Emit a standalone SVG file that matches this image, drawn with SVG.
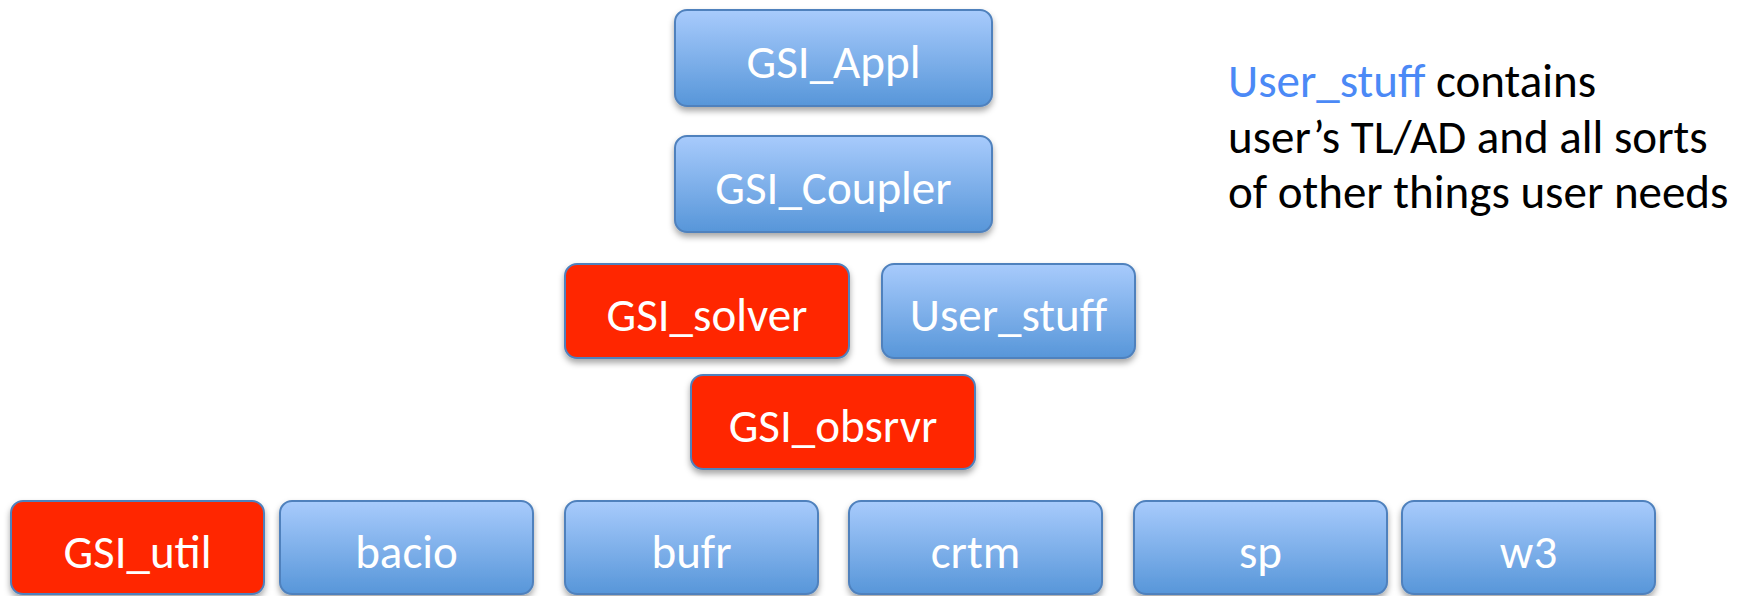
<svg xmlns="http://www.w3.org/2000/svg" width="1751" height="596" viewBox="0 0 1751 596">
<defs>
<linearGradient id="blueGrad" x1="0" y1="0" x2="0" y2="1">
<stop offset="0" stop-color="#a8cbfc"/>
<stop offset="1" stop-color="#5796d9"/>
</linearGradient>
<filter id="shadow" x="-10%" y="-10%" width="120%" height="130%">
<feDropShadow dx="0" dy="4" stdDeviation="3" flood-color="#000" flood-opacity="0.35"/>
</filter>
</defs>
<style>
.box{stroke:#4f81bd;stroke-width:2;filter:url(#shadow)}
.blue{fill:url(#blueGrad)}
.red{fill:#ff2600}
.lbl{font-family:Carlito,Calibri,"Liberation Sans",sans-serif;font-size:47px;fill:#ffffff;text-anchor:middle}
.note{font-family:Carlito,Calibri,"Liberation Sans",sans-serif;font-size:47px;fill:#000000}
.hl{fill:#4b89f6}
</style>
<g id="connectors"></g>
<g id="GSI_Appl"><rect class="box blue" x="675" y="10" width="317" height="96" rx="12"/><text class="lbl" x="833.5" y="78">GSI_Appl</text></g>
<g id="GSI_Coupler"><rect class="box blue" x="675" y="136" width="317" height="96" rx="12"/><text class="lbl" x="833.5" y="204">GSI_Coupler</text></g>
<g id="GSI_solver"><rect class="box red" x="565" y="264" width="284" height="94" rx="12"/><text class="lbl" x="707" y="331">GSI_solver</text></g>
<g id="User_stuff"><rect class="box blue" x="882" y="264" width="253" height="94" rx="12"/><text class="lbl" x="1008.5" y="331">User_stuff</text></g>
<g id="GSI_obsrvr"><rect class="box red" x="691" y="375" width="284" height="94" rx="12"/><text class="lbl" x="833" y="442">GSI_obsrvr</text></g>
<g id="GSI_util"><rect class="box red" x="11" y="501" width="253" height="93" rx="12"/><text class="lbl" x="137.5" y="568">GSI_util</text></g>
<g id="bacio"><rect class="box blue" x="280" y="501" width="253" height="93" rx="12"/><text class="lbl" x="406.5" y="568">bacio</text></g>
<g id="bufr"><rect class="box blue" x="565" y="501" width="253" height="93" rx="12"/><text class="lbl" x="691.5" y="568">bufr</text></g>
<g id="crtm"><rect class="box blue" x="849" y="501" width="253" height="93" rx="12"/><text class="lbl" x="975.5" y="568">crtm</text></g>
<g id="sp"><rect class="box blue" x="1134" y="501" width="253" height="93" rx="12"/><text class="lbl" x="1260.5" y="568">sp</text></g>
<g id="w3"><rect class="box blue" x="1402" y="501" width="253" height="93" rx="12"/><text class="lbl" x="1528.5" y="568">w3</text></g>
<g id="note">
<text class="note" x="1228" y="97"><tspan class="hl">User_stuff</tspan> contains</text>
<text class="note" x="1228" y="153">user’s TL/AD and all sorts</text>
<text class="note" x="1228" y="208">of other things user needs</text>
</g>
</svg>
